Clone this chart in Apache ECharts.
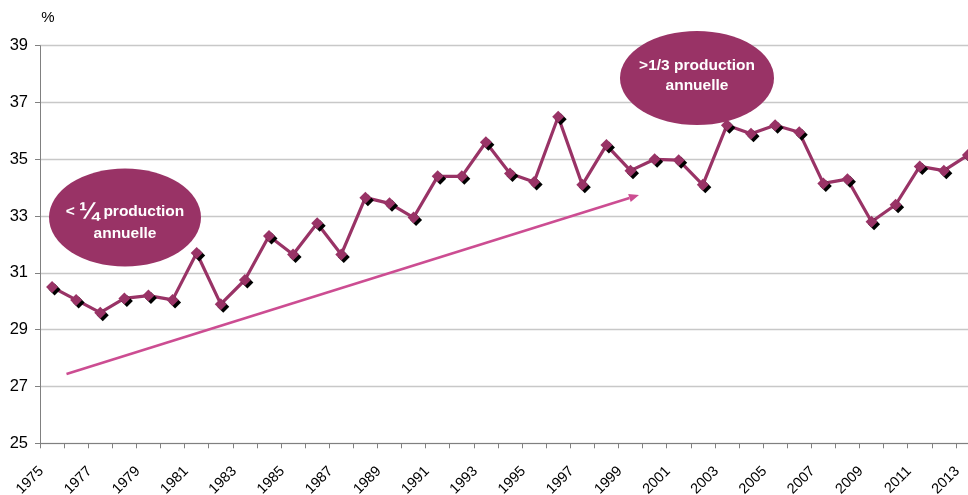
<!DOCTYPE html>
<html>
<head>
<meta charset="utf-8">
<script src="https://cdn.jsdelivr.net/npm/echarts@6/dist/echarts.min.js"></script>
<style>
html,body{margin:0;padding:0;overflow:hidden;background:#fff;}
#chart{width:980px;height:495px;}
</style>
</head>
<body>
<div id="chart"></div>
<script>
const years = ['1975','1976','1977','1978','1979','1980','1981','1982','1983','1984','1985','1986','1987','1988','1989','1990','1991','1992','1993','1994','1995','1996','1997','1998','1999','2000','2001','2002','2003','2004','2005','2006','2007','2008','2009','2010','2011','2012','2013'];
const shares = [30.5,30.05,29.6,30.1,30.2,30.05,31.7,29.9,30.75,32.3,31.65,32.75,31.65,33.65,33.45,32.95,34.4,34.4,35.6,34.5,34.2,36.5,34.1,35.5,34.6,35.0,34.97,34.1,36.2,35.9,36.2,35.95,34.15,34.3,32.8,33.4,34.75,34.6,35.15];
const yTicks = [25,27,29,31,33,35,37,39];
const unitLabel = '%';
const noteLow = ['{a|< }{f|¼}{a| production}', 'annuelle'];
const noteHigh = ['>1/3 production', 'annuelle'];

const purple = '#993366';
const pink = '#cc4d92';
const font = 'Liberation Sans, Arial, sans-serif';

// arrow annotation geometry (pixels)
const aStart = [66.5, 374], aTip = [639, 195];
const dx = aTip[0]-aStart[0], dy = aTip[1]-aStart[1];
const len = Math.sqrt(dx*dx+dy*dy);
const ux = dx/len, uy = dy/len, nx = -uy, ny = ux;
const headL = 10, headW = 4.2;
const base = [aTip[0]-headL*ux, aTip[1]-headL*uy];

const chart = echarts.init(document.getElementById('chart'), null, {renderer:'canvas'});
chart.setOption({
  animation:false,
  backgroundColor:'#fff',
  grid:{left:40, right:0, top:45.7, bottom:51.7, containLabel:false, outerBoundsMode:'none'},
  xAxis:{
    type:'category', data:years, boundaryGap:true,
    axisLine:{lineStyle:{color:'#808080', width:1}},
    axisTick:{show:true, interval:0, length:5, lineStyle:{color:'#808080'}},
    axisLabel:{interval:1, rotate:45, margin:15, padding:[0,15,0,0], color:'#000', fontSize:14.5, fontFamily:font},
    splitLine:{show:false}
  },
  yAxis:{
    type:'value', min:yTicks[0], max:yTicks[yTicks.length-1], interval:2,
    name:unitLabel, nameLocation:'end', nameGap:20,
    nameTextStyle:{color:'#000', fontSize:15, fontFamily:font, padding:[0,0,0,16]},
    axisLine:{show:true, lineStyle:{color:'#808080', width:1}},
    axisTick:{show:true, length:5, lineStyle:{color:'#808080'}},
    axisLabel:{margin:12, color:'#000', fontSize:16.5, fontFamily:font},
    splitLine:{show:true, lineStyle:{color:'#c8c8c8', width:1.3}}
  },
  series:[{
    type:'line', data:shares,
    symbol:'diamond', symbolSize:12, showSymbol:true,
    lineStyle:{color:purple, width:3.2},
    itemStyle:{color:purple, shadowColor:'#000', shadowOffsetX:2.5, shadowOffsetY:2.5, shadowBlur:0},
    clip:false, z:3
  }],
  graphic:[
    {type:'line', z:2, shape:{x1:aStart[0], y1:aStart[1], x2:base[0], y2:base[1]}, style:{stroke:pink, lineWidth:2.6}},
    {type:'polygon', z:2, shape:{points:[aTip, [base[0]+headW*nx, base[1]+headW*ny], [base[0]-headW*nx, base[1]-headW*ny]]}, style:{fill:pink}},
    {type:'circle', z:10, x:125, y:217.5, scaleY:49/76, shape:{cx:0, cy:0, r:76}, style:{fill:purple}},
    {type:'text', z:11, x:125, y:212, style:{text:noteLow[0], fill:'#fff', align:'center', verticalAlign:'middle',
      rich:{a:{fill:'#fff', fontWeight:'bold', fontSize:15.5, fontFamily:font}, f:{fill:'#fff', fontWeight:'bold', fontSize:24, fontFamily:font}}}},
    {type:'text', z:11, x:125, y:234, style:{text:noteLow[1], fill:'#fff', font:'bold 15.5px '+font, align:'center', verticalAlign:'middle'}},
    {type:'circle', z:10, x:697, y:78, scaleY:47/77, shape:{cx:0, cy:0, r:77}, style:{fill:purple}},
    {type:'text', z:11, x:697, y:66, style:{text:noteHigh[0], fill:'#fff', font:'bold 15.5px '+font, align:'center', verticalAlign:'middle'}},
    {type:'text', z:11, x:697, y:86, style:{text:noteHigh[1], fill:'#fff', font:'bold 15.5px '+font, align:'center', verticalAlign:'middle'}}
  ]
});
</script>
</body>
</html>
